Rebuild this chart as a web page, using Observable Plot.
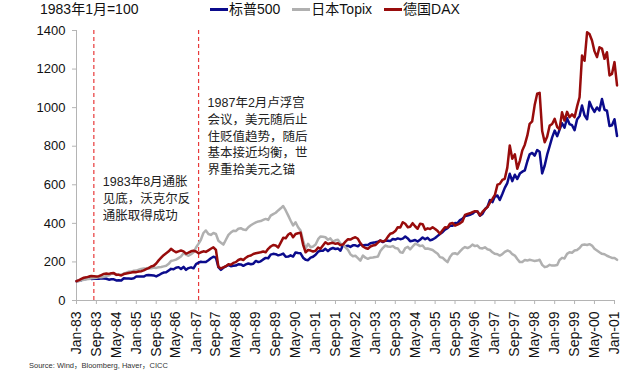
<!DOCTYPE html>
<html>
<head>
<meta charset="utf-8">
<script src="https://cdn.jsdelivr.net/npm/d3@7"></script>
<script src="https://cdn.jsdelivr.net/npm/@observablehq/plot@0.6"></script>
<style>
  html, body { margin: 0; padding: 0; background: #fff; }
  #wrap { position: relative; width: 641px; height: 376px; font-family: "Liberation Sans", Arial, "Noto Sans CJK SC", sans-serif; color: #111; }
  #wrap svg { position: absolute; left: 0; top: 0; }
  .hdr { position: absolute; top: 1px; left: 40px; font-size: 14px; line-height: 17px; }
  .legend { position: absolute; top: 1px; left: 210px; display: flex; font-size: 14px; line-height: 17px; }
  .legend .item { display: flex; align-items: center; margin-right: 12px; }
  .legend .sw { width: 18px; height: 3px; margin-right: 1px; }
  .src { position: absolute; left: 29px; top: 361px; font-size: 7.5px; color: #333; line-height: 10px; }
</style>
</head>
<body>
<div id="wrap"></div>
<script>
// ---------- data ----------
const seriesNames = ["标普500", "日本Topix", "德国DAX"];
const seriesColors = ["#0b0b8c", "#b0b0b0", "#980c0c"];
const unitLabel = "1983年1月=100";
const sourceText = "Source: Wind，Bloomberg, Haver，CICC";

// monthly, Jan-1983 .. Feb-2001
const sp500 = [
  100, 102, 105, 113, 112, 116, 112, 113, 114, 113, 115, 114,
  113, 108, 110, 110, 104, 105, 104, 115, 114, 114, 113, 115,
  124, 125, 124, 124, 131, 132, 131, 130, 125, 131, 139, 145,
  146, 156, 164, 162, 170, 173, 163, 174, 159, 168, 172, 167,
  189, 196, 201, 199, 200, 209, 219, 227, 222, 173, 159, 170,
  177, 184, 178, 180, 181, 188, 187, 180, 187, 192, 188, 191,
  205, 199, 203, 213, 221, 219, 238, 242, 240, 234, 238, 243,
  227, 228, 234, 228, 249, 246, 245, 222, 211, 209, 222, 227,
  237, 253, 258, 258, 268, 256, 267, 272, 267, 270, 258, 287,
  281, 284, 278, 286, 286, 281, 292, 285, 288, 288, 297, 300,
  302, 305, 311, 303, 310, 310, 308, 319, 316, 322, 318, 321,
  332, 322, 307, 310, 314, 306, 315, 327, 318, 325, 312, 316,
  324, 335, 345, 354, 367, 375, 387, 387, 402, 400, 417, 424,
  438, 441, 444, 450, 461, 462, 440, 449, 473, 485, 521, 510,
  541, 544, 521, 552, 584, 609, 657, 619, 652, 630, 658, 668,
  675, 722, 758, 765, 751, 780, 771, 659, 700, 756, 801, 846,
  881, 852, 885, 919, 896, 945, 915, 909, 883, 938, 956, 1011,
  960, 940, 1031, 1000, 978, 1001, 985, 1045, 989, 984, 905, 909,
  940, 853
];
const topix = [
  100, 101, 105, 108, 110, 111, 115, 117, 118, 122, 120, 123,
  128, 130, 139, 140, 132, 135, 133, 140, 144, 149, 150, 154,
  155, 160, 164, 166, 167, 169, 167, 171, 169, 172, 174, 177,
  180, 190, 205, 208, 212, 220, 228, 245, 238, 232, 240, 250,
  275, 295, 315, 350, 363, 345, 340, 350, 345, 310, 300, 290,
  315, 340, 352, 362, 360, 372, 375, 368, 365, 380, 390, 398,
  405, 410, 412, 418, 423, 418, 440, 448, 455, 467, 478, 490,
  467, 440, 415, 389, 406, 380, 363, 311, 268, 294, 276, 280,
  290, 318, 332, 330, 328, 315, 322, 305, 312, 315, 295, 292,
  276, 262, 240, 230, 232, 220, 207, 233, 222, 216, 222, 223,
  225, 228, 255, 272, 285, 280, 278, 282, 272, 270, 250, 248,
  272, 278, 265, 280, 294, 290, 282, 285, 268, 270, 266, 262,
  252, 242, 225, 222, 210, 199, 225, 242, 245, 240, 255, 268,
  277, 272, 278, 290, 282, 285, 272, 270, 276, 266, 262, 250,
  242, 240, 233, 240, 252, 259, 255, 240, 233, 215, 199, 200,
  210, 207, 211, 208, 205, 207, 211, 185, 173, 176, 185, 181,
  182, 184, 210, 221, 218, 242, 250, 248, 259, 262, 272, 288,
  290, 288, 292, 285, 268, 259, 250, 242, 240, 232, 226, 221,
  220, 211
];
const dax = [
  100, 106, 112, 118, 120, 124, 127, 126, 124, 126, 132, 138,
  140, 138, 141, 142, 134, 133, 130, 137, 140, 143, 145, 148,
  147, 150, 152, 156, 163, 168, 176, 180, 192, 208, 222, 235,
  245, 255, 268, 258, 250, 255, 259, 255, 243, 248, 255, 258,
  254, 245, 250, 255, 252, 260, 268, 276, 262, 175, 166, 172,
  178, 188, 185, 195, 199, 210, 215, 210, 222, 230, 233, 241,
  245, 248, 250, 254, 250, 268, 280, 288, 285, 275, 300, 325,
  323, 342, 349, 328, 345, 349, 352, 290, 250, 262, 259, 254,
  258, 275, 268, 285, 302, 293, 297, 299, 294, 297, 287, 290,
  305, 318, 316, 323, 328, 320, 298, 280, 272, 268, 280, 285,
  288, 300, 311, 306, 310, 330, 346, 350, 360, 380, 378, 406,
  398, 380, 382, 401, 385, 372, 398, 396, 367, 374, 371, 380,
  371, 360, 346, 364, 380, 378, 398, 402, 388, 394, 400, 410,
  444, 449, 452, 458, 463, 462, 441, 459, 473, 484, 508, 527,
  548, 601, 605, 625, 631, 689, 804, 735, 758, 683, 724, 778,
  808, 856, 916, 929, 1012, 1072, 1077, 879, 821, 849, 907, 915,
  942, 899, 888, 976, 933, 978, 950, 965, 950, 1005, 1054, 1270,
  1243, 1391, 1382, 1348, 1293, 1262, 1313, 1306, 1253, 1287, 1167, 1175,
  1236, 1115
];

const xTickLabels = ["Jan-83","Sep-83","May-84","Jan-85","Sep-85","May-86","Jan-87","Sep-87","May-88",
  "Jan-89","Sep-89","May-90","Jan-91","Sep-91","May-92","Jan-93","Sep-93","May-94","Jan-95","Sep-95",
  "May-96","Jan-97","Sep-97","May-98","Jan-99","Sep-99","May-00","Jan-01"];
const yTicks = [0, 200, 400, 600, 800, 1000, 1200, 1400];

const eventMonths = ["1983-08", "1987-02"];
const eventTexts = [
  "1983年8月通胀\n见底，沃克尔反\n通胀取得成功",
  "1987年2月卢浮宫\n会议，美元随后止\n住贬值趋势，随后\n基本接近均衡，世\n界重拾美元之锚"
];

// ---------- build ----------
const parseTick = d3.utcParse("%b-%y");
const tickDates = xTickLabels.map(parseTick);
const firstMonth = new Date(Date.UTC(1983, 0, 1));
const months = d3.utcMonth.range(firstMonth, new Date(Date.UTC(2001, 2, 1)));
const rows = [];
[sp500, topix, dax].forEach((vals, k) => {
  vals.forEach((v, i) => rows.push({ date: months[i], value: v, name: seriesNames[k] }));
});
const events = eventMonths.map((m, i) => ({ date: d3.utcParse("%Y-%m")(m), text: eventTexts[i] }));

const FONT = '"Liberation Sans", Arial, "Noto Sans CJK SC", sans-serif';
const annotation = (ev, dy) => Plot.text([ev], {
  x: "date", text: "text", frameAnchor: "top", textAnchor: "start", lineAnchor: "top",
  dx: 9, dy, fontSize: 12.5, lineHeight: 1.33, fill: "#222", fontFamily: FONT
});

const chart = Plot.plot({
  width: 641,
  height: 376,
  marginTop: 30,
  marginBottom: 76,
  marginLeft: 76,
  marginRight: 27,
  style: { fontFamily: FONT, fontSize: "13px", color: "#111", background: "transparent" },
  x: { type: "utc", domain: [tickDates[0], tickDates[tickDates.length - 1]] },
  y: { domain: [0, 1400] },
  color: { domain: seriesNames, range: seriesColors },
  marks: [
    Plot.ruleY([0], { stroke: "#b4b4b4", strokeWidth: 1 }),
    Plot.ruleX([firstMonth], { stroke: "#b4b4b4", strokeWidth: 1 }),
    Plot.axisY({ ticks: yTicks, tickFormat: d => String(d), tickSize: 4, tickPadding: 7, label: null, stroke: "#b4b4b4", color: "#111", fontSize: 13 }),
    Plot.axisX({ ticks: tickDates, tickFormat: d3.utcFormat("%b-%y"), tickRotate: -90, tickSize: 4, tickPadding: 7, label: null, stroke: "#b4b4b4", color: "#111", fontSize: 14 }),
    Plot.ruleX(events, { x: "date", stroke: "#e8393a", strokeWidth: 1.2, strokeDasharray: "4,3" }),
    annotation(events[0], 144),
    annotation(events[1], 65),
    Plot.line(rows, { x: "date", y: "value", z: "name", stroke: "name", strokeWidth: 2.5, strokeLinejoin: "round", strokeLinecap: "round" })
  ]
});

const wrap = document.getElementById("wrap");
wrap.appendChild(chart);

const hdr = document.createElement("div");
hdr.className = "hdr";
hdr.textContent = unitLabel;
wrap.appendChild(hdr);

const legend = document.createElement("div");
legend.className = "legend";
seriesNames.forEach((n, i) => {
  const it = document.createElement("div");
  it.className = "item";
  const sw = document.createElement("span");
  sw.className = "sw";
  sw.style.background = seriesColors[i];
  const t = document.createElement("span");
  t.textContent = n;
  it.appendChild(sw); it.appendChild(t);
  legend.appendChild(it);
});
wrap.appendChild(legend);

const src = document.createElement("div");
src.className = "src";
src.textContent = sourceText;
wrap.appendChild(src);
</script>
</body>
</html>
